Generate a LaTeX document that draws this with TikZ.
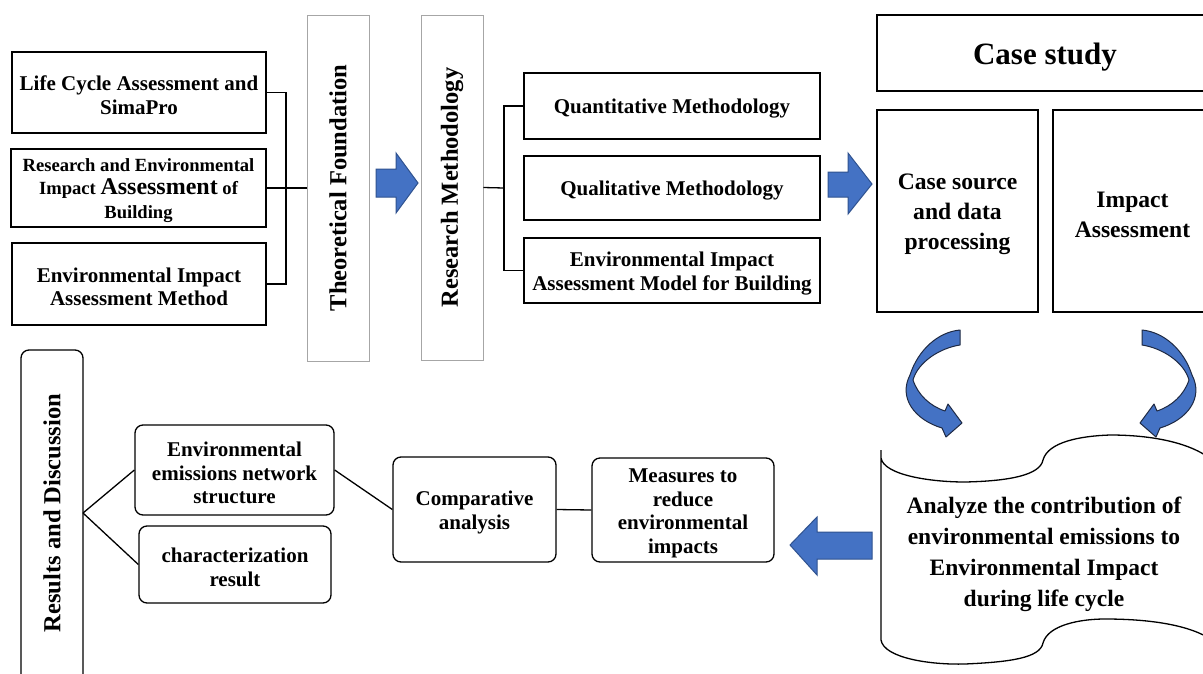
\documentclass[tikz,border=0pt]{standalone}
\usepackage{fontspec}
\setmainfont{Liberation Serif}
\definecolor{arrowblue}{HTML}{4472C4}
\definecolor{arrowedge}{HTML}{2F528F}
\definecolor{curveedge}{HTML}{1F2A44}
\newcommand\fA{\fontsize{21}{23.5}\selectfont\bfseries}
\newcommand\fB{\fontsize{18.6}{23.5}\selectfont\bfseries}
\newcommand\fC{\fontsize{23.6}{30}\selectfont\bfseries}
\newcommand\fR{\fontsize{24.5}{26}\selectfont\bfseries}
\newcommand\dn{\rule{0pt}{0.97em}}
\begin{document}
\begin{tikzpicture}[x=1pt,y=-1pt,
  box/.style={draw,line width=1.3pt,inner sep=0pt,align=center,font=\fA},
  rbox/.style={box,rounded corners=8pt},
  gbox/.style={draw=gray!70,line width=0.9pt,inner sep=0pt},
  conn/.style={line width=1.3pt},
  barrow/.style={fill=arrowblue,draw=arrowedge,line width=1pt,line join=miter},
  curved/.style={fill=arrowblue,draw=curveedge,line width=1pt,line join=round},
]
\clip (0,0) rectangle (1203,673);
\fill[white] (0,0) rectangle (1203,673);

% left column
\node[box,minimum width=254pt,minimum height=81pt] (b1) at (139,92.5) {\dn Life Cycle Assessment and\\SimaPro};
\node[box,minimum width=255pt,minimum height=78pt,font=\fB] (b2) at (138.5,188) {\dn Research and Environmental\\Impact {\fontsize{24}{23.5}\selectfont Assessment} of\\Building};
\node[box,minimum width=254pt,minimum height=82pt] (b3) at (139,284) {\dn Environmental Impact\\Assessment Method};

% vertical labels
\node[gbox,minimum width=62pt,minimum height=346pt] (tf) at (338,188) {};
\node[rotate=90,font=\fR] (tft) at (tf.center) {Theoretical Foundation};
\node[gbox,minimum width=62pt,minimum height=345pt] (rm) at (452,187.5) {};
\node[rotate=90,font=\fR] (rmt) at (rm.center) {Research Methodology};

% methodology boxes
\node[box,minimum width=296pt,minimum height=66pt] (qn) at (672,106) {\dn Quantitative Methodology};
\node[box,minimum width=296pt,minimum height=64pt] (ql) at (672,188) {\dn Qualitative Methodology};
\node[box,minimum width=296pt,minimum height=65pt] (em) at (672,270.5) {\dn Environmental Impact\\Assessment Model for Building};

% connectors top
\coordinate (j1) at (286,188);
\draw[conn] (b1.east) -| (j1) |- (b3.east);
\draw[conn] (b2.east) -- (tf.west);
\coordinate (j2) at (504,188);
\draw[conn] (rm.east) -- (j2);
\draw[conn] (qn.west) -| (j2) |- (em.west);

% block arrows
\path[barrow] (376,169) -- (396,169) -- (396,153) -- (418,183) -- (396,213) -- (396,197) -- (376,197) -- cycle;
\path[barrow] (828,172) -- (848,172) -- (848,153) -- (872,184) -- (848,214) -- (848,197) -- (828,197) -- cycle;
\path[barrow] (872,532) -- (817,532) -- (817,517) -- (790,545) -- (817,575) -- (817,559) -- (872,559) -- cycle;

% case study
\node[box,minimum width=336pt,minimum height=76pt,font=\fontsize{31}{34}\selectfont\bfseries] (cs) at (1045,53) {\dn Case study};
\node[box,minimum width=161pt,minimum height=202pt,font=\fC] (csrc) at (957.5,211) {\dn Case source\\and data\\processing};
\node[box,minimum width=159pt,minimum height=202pt,font=\fC] (ia) at (1132.5,211) {\dn Impact\\Assessment};

% curved arrows
\path[curved] (960,330) -- (960,345) .. controls (940,348) and (918,362) .. (913,380)
  .. controls (918,395) and (930,406) .. (945,411) -- (948,404) -- (962,423) -- (946,437) -- (942,428)
  .. controls (915,420) and (898,398) .. (910,375) .. controls (918,350) and (938,332) .. (960,330) -- cycle;
\begin{scope}[xshift=2102pt,xscale=-1]
\path[curved] (960,330) -- (960,345) .. controls (940,348) and (918,362) .. (913,380)
  .. controls (918,395) and (930,406) .. (945,411) -- (948,404) -- (962,423) -- (946,437) -- (942,428)
  .. controls (915,420) and (898,398) .. (910,375) .. controls (918,350) and (938,332) .. (960,330) -- cycle;
\end{scope}

% tape shape
\draw[line width=1.3pt,fill=white] (881,458) .. controls (884,475) and (930,482) .. (965,482)
  .. controls (1010,481) and (1040,475) .. (1043,460) .. controls (1048,442) and (1080,436) .. (1110,435)
  .. controls (1150,435) and (1190,442) .. (1212,460) -- (1212,640)
  .. controls (1190,625) and (1150,619) .. (1105,619) .. controls (1080,619) and (1048,625) .. (1043,643)
  .. controls (1040,658) and (1010,662) .. (965,664) .. controls (930,665) and (884,658) .. (881,640) -- (881,450);
\node[align=center,font=\fontsize{23.5}{31}\selectfont\bfseries,inner sep=0pt] (tape) at (1044,551) {\dn Analyze the contribution of\\environmental emissions to\\Environmental Impact\\during life cycle};

% bottom
\node[draw,line width=1.3pt,rounded corners=8pt,minimum width=62pt,minimum height=340pt,inner sep=0pt] (rd) at (52,520) {};
\node[rotate=90,font=\fR] (rdt) at (52,513) {Results and Discussion};
\coordinate (rdj) at (83,513);
\node[rbox,minimum width=199pt,minimum height=90pt] (ee) at (234.5,470) {\dn Environmental\\emissions network\\structure};
\node[rbox,minimum width=192pt,minimum height=77pt] (ch) at (235,564.5) {\dn characterization\\result};
\node[rbox,minimum width=163pt,minimum height=105pt] (ca) at (474.5,509.5) {\dn Comparative\\analysis};
\node[rbox,minimum width=182pt,minimum height=104pt] (me) at (683,510) {\dn Measures to\\reduce\\environmental\\impacts};
\draw[conn] (rdj) -- (ee.west);
\draw[conn] (rdj) -- (ch.west);
\draw[conn] (ee.east) -- (ca.west);
\draw[conn] (ca.east) -- (me.west);
\end{tikzpicture}
\end{document}
